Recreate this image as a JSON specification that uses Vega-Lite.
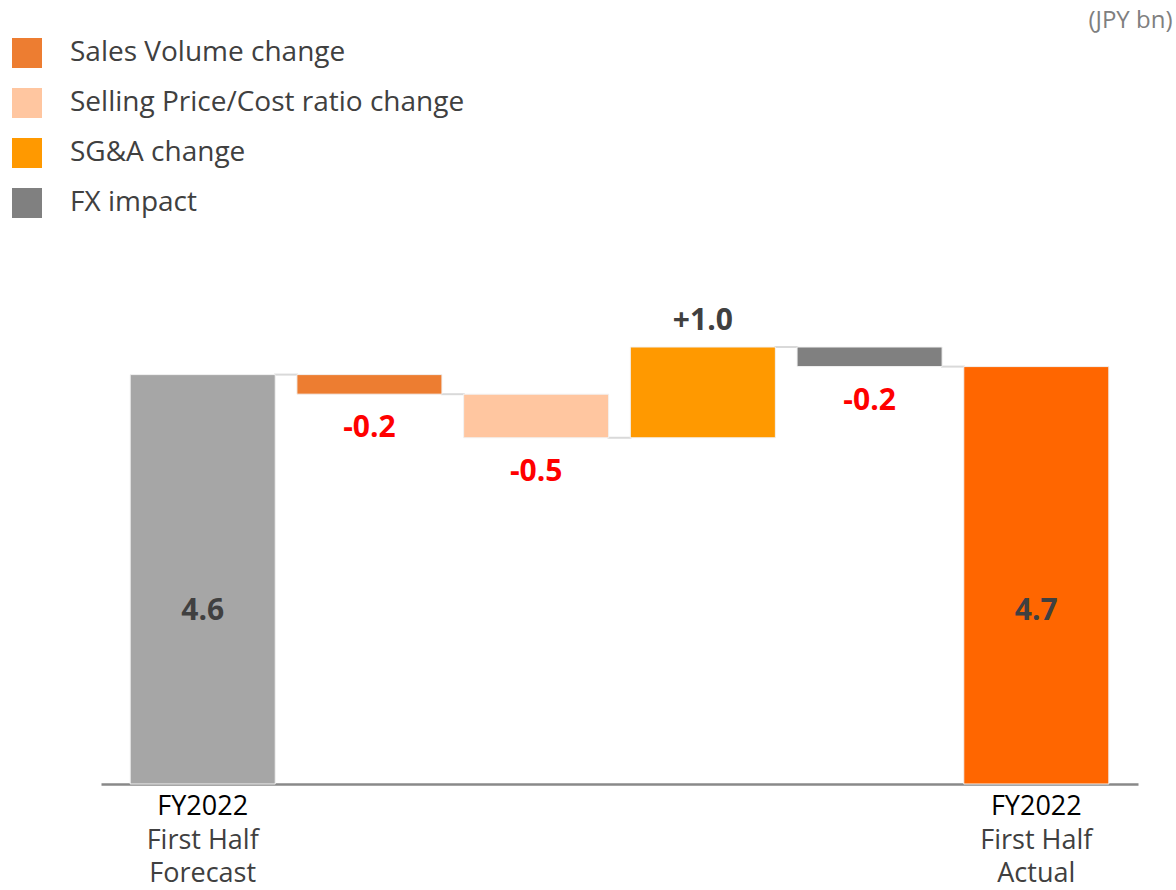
{
  "$schema": "https://vega.github.io/schema/vega-lite/v6.json",
  "autosize": "none",
  "width": 1037,
  "height": 534,
  "padding": {"left": 101, "top": 250, "right": 38, "bottom": 106},
  "background": "white",
  "config": {"view": {"stroke": null}},
  "data": {
    "values": [
      {"cat": "Forecast", "kind": "total", "start": 0, "end": 4.6, "label": "4.6", "l1": "FY2022", "l2": "First Half", "l3": "Forecast"},
      {"cat": "Sales Volume change", "kind": "neg", "start": 4.6, "end": 4.38, "label": "-0.2"},
      {"cat": "Selling Price/Cost ratio change", "kind": "neg", "start": 4.38, "end": 3.89, "label": "-0.5"},
      {"cat": "SG&A change", "kind": "pos", "start": 3.89, "end": 4.91, "label": "+1.0"},
      {"cat": "FX impact", "kind": "neg", "start": 4.91, "end": 4.69, "label": "-0.2"},
      {"cat": "Actual", "kind": "total", "start": 0, "end": 4.69, "label": "4.7", "l1": "FY2022", "l2": "First Half", "l3": "Actual"}
    ]
  },
  "encoding": {
    "x": {
      "field": "cat",
      "type": "ordinal",
      "scale": {
        "domain": ["Forecast", "Sales Volume change", "Selling Price/Cost ratio change", "SG&A change", "FX impact", "Actual"],
        "paddingInner": 0.13,
        "paddingOuter": 0.175
      },
      "axis": {"title": null, "labels": false, "ticks": false, "domain": true, "domainColor": "#898989", "domainWidth": 2.5, "grid": false}
    }
  },
  "layer": [
    {
      "transform": [{"filter": "datum.cat != 'Actual'"}],
      "mark": {"type": "tick", "color": "#D9D9D9", "thickness": 2, "size": 24, "xOffset": 83.4, "opacity": 1},
      "encoding": {
        "y": {"field": "end", "type": "quantitative"}
      }
    },
    {
      "transform": [{"filter": "datum.kind == 'total'"}],
      "mark": {"type": "bar", "stroke": "#F2F2F2", "strokeWidth": 1},
      "encoding": {
        "y": {"field": "start", "type": "quantitative", "scale": {"domain": [0, 6], "nice": false, "zero": true},
          "axis": {"orient": "right", "title": "(JPY bn)", "titleAngle": 0, "titleAlign": "right", "titleBaseline": "middle", "titleX": 34, "titleY": -230, "titleFontSize": 24, "titleFontWeight": "normal", "titleColor": "#7F7F7F", "titleFont": "Open Sans", "labels": false, "ticks": false, "domain": false, "grid": false}},
        "y2": {"field": "end"},
        "fill": {
          "field": "cat",
          "type": "nominal",
          "scale": {"domain": ["Forecast", "Actual"], "range": ["#A6A6A6", "#FF6600"]},
          "legend": null
        }
      }
    },
    {
      "transform": [{"filter": "datum.kind != 'total'"}],
      "mark": {"type": "bar", "stroke": "#F2F2F2", "strokeWidth": 1},
      "encoding": {
        "y": {"field": "start", "type": "quantitative"},
        "y2": {"field": "end"},
        "color": {
          "field": "cat",
          "type": "nominal",
          "scale": {
            "domain": ["Sales Volume change", "Selling Price/Cost ratio change", "SG&A change", "FX impact"],
            "range": ["#ED7D31", "#FFC6A0", "#FF9900", "#808080"]
          },
          "legend": {
            "title": null,
            "orient": "none",
            "legendX": -89,
            "legendY": -212,
            "padding": 0,
            "symbolType": "square",
            "symbolSize": 900,
            "symbolStrokeWidth": 0,
            "symbolOpacity": 1,
            "labelFontSize": 28,
            "labelFont": "Open Sans",
            "labelColor": "#404040",
            "labelOffset": 28,
            "labelLimit": 0,
            "rowPadding": 20
          }
        }
      }
    },
    {
      "transform": [{"filter": "datum.kind == 'total'"}],
      "mark": {"type": "text", "fontSize": 30, "fontWeight": "bold", "font": "Open Sans", "color": "#404040", "baseline": "middle"},
      "encoding": {
        "y": {"datum": 1.94, "type": "quantitative"},
        "text": {"field": "label"}
      }
    },
    {
      "transform": [{"filter": "datum.kind == 'neg'"}],
      "mark": {"type": "text", "fontSize": 30, "fontWeight": "bold", "font": "Open Sans", "color": "#FF0000", "baseline": "middle", "dy": 34},
      "encoding": {
        "y": {"field": "end", "type": "quantitative"},
        "text": {"field": "label"}
      }
    },
    {
      "transform": [{"filter": "datum.kind == 'pos'"}],
      "mark": {"type": "text", "fontSize": 30, "fontWeight": "bold", "font": "Open Sans", "color": "#404040", "baseline": "middle", "dy": -26},
      "encoding": {
        "y": {"field": "end", "type": "quantitative"},
        "text": {"field": "label"}
      }
    },
    {
      "transform": [{"filter": "datum.kind == 'total'"}],
      "mark": {"type": "text", "fontSize": 27, "font": "Open Sans", "color": "#000000", "baseline": "middle", "dy": 23},
      "encoding": {
        "y": {"datum": 0, "type": "quantitative"},
        "text": {"field": "l1"}
      }
    },
    {
      "transform": [{"filter": "datum.kind == 'total'"}],
      "mark": {"type": "text", "fontSize": 27, "font": "Open Sans", "color": "#404040", "baseline": "middle", "dy": 57},
      "encoding": {
        "y": {"datum": 0, "type": "quantitative"},
        "text": {"field": "l2"}
      }
    },
    {
      "transform": [{"filter": "datum.kind == 'total'"}],
      "mark": {"type": "text", "fontSize": 27, "font": "Open Sans", "color": "#404040", "baseline": "middle", "dy": 90},
      "encoding": {
        "y": {"datum": 0, "type": "quantitative"},
        "text": {"field": "l3"}
      }
    }
  ]
}
